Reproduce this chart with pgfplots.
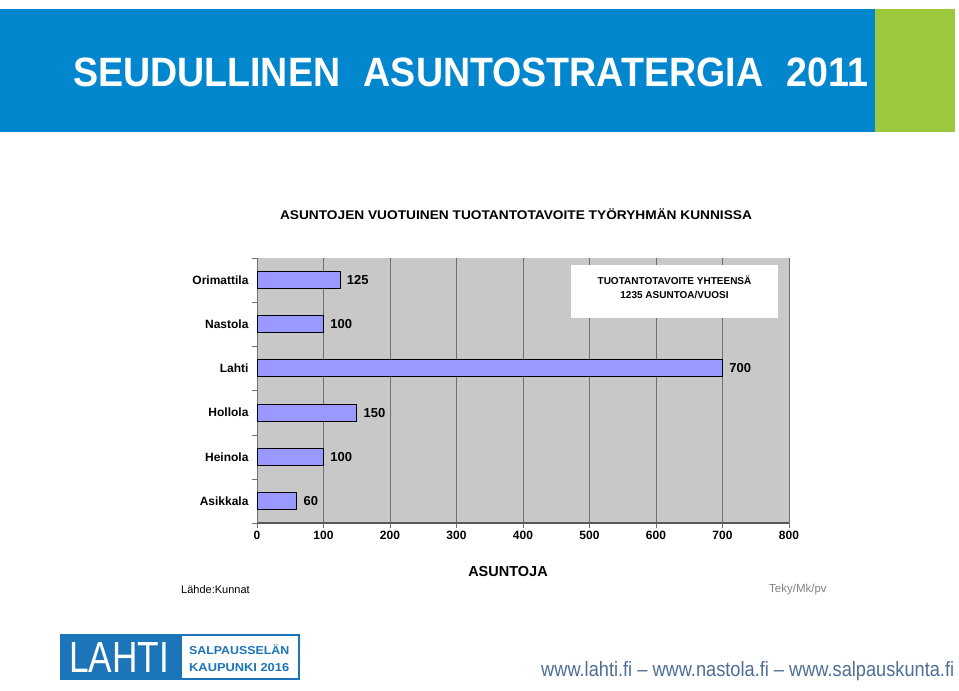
\documentclass[border=0pt]{standalone}
\usepackage{pgfplots}
\pgfplotsset{compat=1.18}
\usepackage{fontspec}
\setmainfont{Liberation Sans}
\definecolor{hdrblue}{HTML}{0287CF}
\definecolor{hdrgreen}{HTML}{9BC83C}
\definecolor{barfill}{HTML}{9999FF}
\definecolor{plotbg}{HTML}{C8C8C8}
\definecolor{gridcol}{HTML}{707070}
\definecolor{logoblue}{HTML}{1C74B9}
\definecolor{urlcol}{HTML}{4D6F94}
\begin{document}
\begin{tikzpicture}[x=1pt,y=1pt]
\fill[white] (0,0) rectangle (959,691);
% header
\fill[hdrblue] (0,559) rectangle (875,682);
\fill[hdrgreen] (875,559) rectangle (955,682);
\node[white,anchor=base west,inner sep=0pt] at (73,604) {\resizebox{795pt}{\height}{\fontsize{41}{41}\selectfont\bfseries SEUDULLINEN\hspace{0.35em} ASUNTOSTRATERGIA\hspace{0.35em} 2011}};
% chart title
\node[anchor=center,inner sep=0pt] at (516,477) {\resizebox{472pt}{\height}{\bfseries\fontsize{12.6}{12.6}\selectfont ASUNTOJEN VUOTUINEN TUOTANTOTAVOITE TYÖRYHMÄN KUNNISSA}};
\begin{axis}[
  at={(257pt,168pt)}, anchor=south west,
  scale only axis, width=532pt, height=265pt,
  xbar, bar width=17pt,
  xmin=0, xmax=800, ymin=-0.5, ymax=5.5,
  xtick={0,100,...,800},
  ytick={0,...,5},
  yticklabels={Asikkala,Heinola,Hollola,Lahti,Nastola,Orimattila},
  minor ytick={-0.5,0.5,...,5.5},
  /pgf/number format/assume math mode=true,
  ticklabel style={font=\bfseries\fontsize{12}{12}\selectfont},
  yticklabel style={font=\bfseries\fontsize{12}{12}\selectfont},
  tick align=outside,
  major tick length=5pt, minor tick length=5pt,
  major y tick style={draw=none},
  minor y tick style={draw=gridcol},
  xtick style={draw=gridcol},
  axis x line*=bottom, axis y line*=left,
  x axis line style={-,draw=black!65,line width=1.2pt},
  y axis line style={-,draw=gridcol,line width=0.6pt},
  axis background/.style={fill=plotbg},
  xmajorgrids, grid style={draw=gridcol,line width=0.6pt},
  nodes near coords,
  nodes near coords style={anchor=west,xshift=3pt,font=\bfseries\fontsize{13}{13}\selectfont},
]
\addplot[draw=black,line width=1pt,fill=barfill] coordinates {
 (60,0) (100,1) (150,2) (700,3) (100,4) (125,5)};
\end{axis}
% annotation box
\fill[white] (571,373) rectangle (778,426);
\node[align=center,inner sep=0pt,font=\bfseries\fontsize{10}{13.5}\selectfont] at (674.5,403.5) {TUOTANTOTAVOITE YHTEENSÄ\\1235 ASUNTOA/VUOSI};
% x label and notes
\node[font=\bfseries\fontsize{14.5}{14.5}\selectfont,inner sep=0pt] at (508,119) {ASUNTOJA};
\node[anchor=west,inner sep=0pt,font=\fontsize{11}{11}\selectfont] at (181,101) {Lähde:Kunnat};
\node[anchor=west,inner sep=0pt,text=black!50,font=\fontsize{11.5}{11.5}\selectfont] at (769,101) {Teky/Mk/pv};
% logo
\fill[logoblue] (60,11) rectangle (300,57);
\fill[white] (182,13) rectangle (298,55);
\node[white,anchor=base west,inner sep=0pt] at (69,18) {\resizebox{100pt}{30pt}{\fontsize{30}{30}\selectfont LAHTI}};
\node[logoblue,anchor=base west,inner sep=0pt] at (189,36) {\resizebox{100pt}{\height}{\bfseries\fontsize{11.5}{11.5}\selectfont SALPAUSSELÄN}};
\node[logoblue,anchor=base west,inner sep=0pt] at (189,19) {\resizebox{100pt}{\height}{\bfseries\fontsize{11.5}{11.5}\selectfont KAUPUNKI 2016}};
% url
\node[urlcol,anchor=base west,inner sep=0pt] at (541,14) {\resizebox{413pt}{15pt}{\fontsize{20}{20}\selectfont www.lahti.fi -- www.nastola.fi -- www.salpauskunta.fi}};
\end{tikzpicture}
\end{document}
